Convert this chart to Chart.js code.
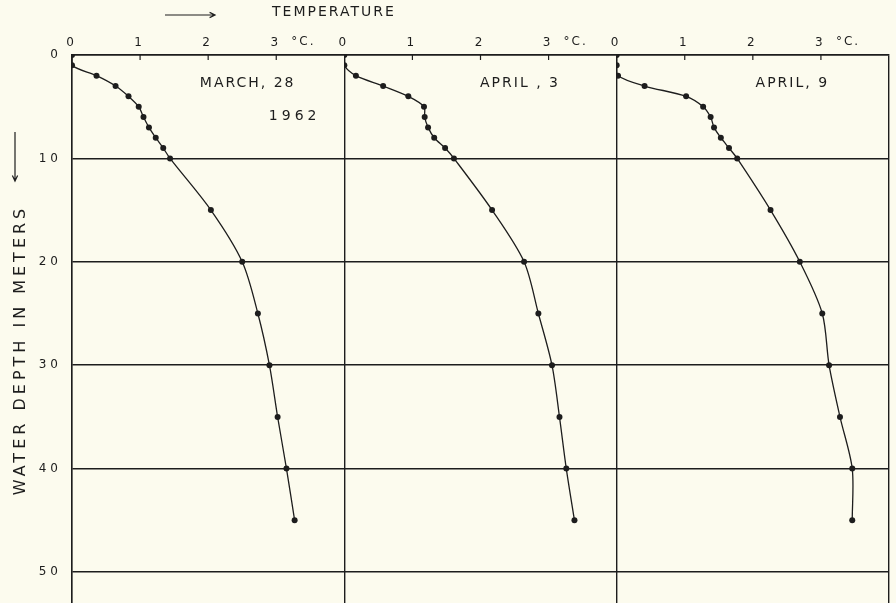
<!DOCTYPE html>
<html>
<head>
<meta charset="utf-8">
<title>Water temperature profiles 1962</title>
<script src="https://cdn.jsdelivr.net/npm/chart.js@4.4.0/dist/chart.umd.min.js"></script>
<style>
  html, body { margin: 0; padding: 0; background: #fcfbee; }
  #wrap { width: 896px; height: 603px; position: relative; }
</style>
</head>
<body>
<div id="wrap"><canvas id="profiles"></canvas></div>
<script>
// depth of each reading (m) and temperature (°C)
const depths = [0, 1, 2, 3, 4, 5, 6, 7, 8, 9, 10, 15, 20, 25, 30, 35, 40, 45];
const tempMar28 = [0, 0, 0.36, 0.64, 0.83, 0.98, 1.05, 1.13, 1.23, 1.34, 1.44, 2.04, 2.50, 2.73, 2.90, 3.02, 3.15, 3.27];
const tempApr3 = [0, 0, 0.17, 0.57, 0.94, 1.17, 1.18, 1.23, 1.32, 1.48, 1.61, 2.17, 2.64, 2.85, 3.05, 3.16, 3.26, 3.38];
const tempApr9 = [0, 0, 0.02, 0.41, 1.02, 1.27, 1.38, 1.43, 1.53, 1.65, 1.77, 2.26, 2.69, 3.02, 3.12, 3.28, 3.46, 3.46];

const panelLabels = ['MARCH, 28', 'APRIL , 3', 'APRIL, 9'];
const yearLabel = '1962';
const tempTicks = [0, 1, 2, 3];
const depthTicks = [0, 10, 20, 30, 40, 50];
const tempUnit = '°C.';
const xTitle = 'TEMPERATURE';
const yTitle = 'WATER DEPTH IN METERS';

const ink = '#1d1d1d';
const fontFam = '"DejaVu Sans", sans-serif';

function profile(temps, axis) {
    return {
        data: temps.map((t, i) => ({ x: t, y: depths[i] })),
        xAxisID: axis,
        yAxisID: 'y',
        borderColor: ink,
        backgroundColor: ink,
        borderWidth: 1.3,
        pointRadius: 3,
        pointBorderWidth: 0,
        tension: 0.3,
        fill: false
    };
}

function tempAxis(weight, last) {
    return {
        type: 'linear',
        position: 'top',
        stack: 'temp',
        stackWeight: 1,
        weight: weight,
        min: 0,
        max: 4,
        afterBuildTicks: s => { s.ticks = tempTicks.concat([4]).map(v => ({ value: v })); },
        afterFit: s => { s.height = 55; },
        ticks: {
            color: ink,
            padding: 5,
            maxRotation: 0,
            font: { family: fontFam, size: 12 },
            callback: v => tempTicks.includes(v) ? String(v) : ''
        },
        grid: {
            drawTicks: false,
            lineWidth: 1.4,
            color: c => (c.tick.value === 0 || (last && c.tick.value === 4)) ? ink : 'rgba(0,0,0,0)'
        },
        border: { color: ink, width: 1.4 }
    };
}

function arrow(ctx, x1, y1, x2, y2) {
    const a = Math.atan2(y2 - y1, x2 - x1);
    ctx.beginPath();
    ctx.moveTo(x1, y1);
    ctx.lineTo(x2, y2);
    ctx.moveTo(x2 - 6 * Math.cos(a - 0.45), y2 - 6 * Math.sin(a - 0.45));
    ctx.lineTo(x2, y2);
    ctx.lineTo(x2 - 6 * Math.cos(a + 0.45), y2 - 6 * Math.sin(a + 0.45));
    ctx.stroke();
}

const decorations = {
    id: 'decorations',
    beforeDraw(chart) {
        chart.ctx.letterSpacing = '4px';
    },
    afterDraw(chart) {
        const ctx = chart.ctx;
        const y = chart.scales.y;
        const panels = ['x1', 'x2', 'x3'].map(id => chart.scales[id]);
        ctx.save();
        ctx.fillStyle = ink;
        ctx.strokeStyle = ink;
        ctx.lineWidth = 1.2;

        // small ticks pointing into the plot, and the unit after "3"
        panels.forEach(s => {
            tempTicks.slice(1).forEach(v => {
                const px = s.getPixelForValue(v);
                ctx.beginPath();
                ctx.moveTo(px, s.bottom);
                ctx.lineTo(px, s.bottom + 5);
                ctx.stroke();
            });
            ctx.font = '12px ' + fontFam;
            ctx.letterSpacing = '2px';
            ctx.textAlign = 'left';
            ctx.textBaseline = 'middle';
            ctx.fillText(tempUnit, s.getPixelForValue(3) + 15, 42);
        });

        // date labels in each panel
        ctx.font = '14px ' + fontFam;
        ctx.textAlign = 'center';
        ctx.textBaseline = 'middle';
        ctx.letterSpacing = '2px';
        panelLabels.forEach((txt, i) => {
            ctx.fillText(txt, panels[i].getPixelForValue(2.58), y.getPixelForValue(2.7));
        });
        ctx.letterSpacing = '4px';
        ctx.fillText(yearLabel, panels[0].getPixelForValue(3.27), y.getPixelForValue(5.9));

        // top title with arrow
        ctx.letterSpacing = '2px';
        ctx.textAlign = 'left';
        ctx.fillText(xTitle, 272, 12);
        arrow(ctx, 165, 15, 215, 15);

        // left title with arrow pointing down
        ctx.save();
        ctx.translate(21, 350);
        ctx.rotate(-Math.PI / 2);
        ctx.font = '16px ' + fontFam;
        ctx.letterSpacing = '4px';
        ctx.textAlign = 'center';
        ctx.fillText(yTitle, 0, 0);
        ctx.restore();
        arrow(ctx, 15, 132, 15, 181);

        ctx.restore();
    }
};

new Chart(document.getElementById('profiles').getContext('2d'), {
    type: 'line',
    data: {
        datasets: [
            profile(tempMar28, 'x1'),
            profile(tempApr3, 'x2'),
            profile(tempApr9, 'x3')
        ]
    },
    options: {
        responsive: true,
        maintainAspectRatio: false,
        animation: false,
        layout: { autoPadding: false, padding: { top: 0, left: 0, right: 7, bottom: 0 } },
        plugins: {
            legend: { display: false },
            title: { display: false },
            tooltip: { enabled: false }
        },
        scales: {
            x1: tempAxis(3, false),
            x2: tempAxis(2, false),
            x3: tempAxis(1, true),
            y: {
                type: 'linear',
                position: 'left',
                reverse: true,
                min: 0,
                max: 53,
                afterBuildTicks: s => { s.ticks = depthTicks.map(v => ({ value: v })); },
                afterFit: s => {
                    s.width = 72;
                    // the axis runs off the bottom edge, no room kept for the label overhang
                    s.paddingTop = 0;
                    s.paddingBottom = 0;
                },
                ticks: {
                    color: ink,
                    padding: 10,
                    font: { family: fontFam, size: 12 }
                },
                grid: { drawTicks: false, color: ink, lineWidth: 1.4 },
                border: { color: ink, width: 1.4 }
            }
        }
    },
    plugins: [decorations]
});
</script>
</body>
</html>
